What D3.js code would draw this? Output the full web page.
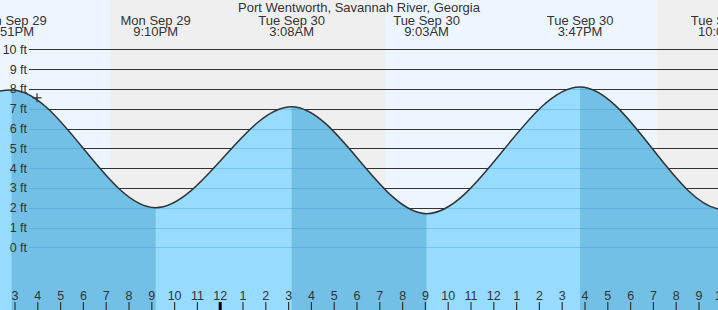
<!DOCTYPE html>
<html>
  <head>
    <meta charset="utf-8">
    <title>Port Wentworth tides</title>
    <script src="https://cdn.jsdelivr.net/npm/d3@7"></script>
    <style>
      body { margin: 0; background: #fff; }
      svg { display: block; font-family: "Liberation Sans", Arial, sans-serif; }
      text { fill: #333; }
    </style>
  </head>

  <body>
    <svg id="chart" width="718" height="310"></svg>

    <script>
      // tide extremes (first and last fall outside the window)
      var tideTimes = ["2025-09-29T08:38", "2025-09-29T14:51", "2025-09-29T21:10", "2025-09-30T03:08",
        "2025-09-30T09:03", "2025-09-30T15:47", "2025-09-30T22:06", "2025-10-01T04:30"];
      var tideHeights = [2.1, 7.95, 2.0, 7.1, 1.7, 8.1, 1.9, 7.6];

      // night bands
      var sunsets = ["2025-09-29T19:10", "2025-09-30T19:09"];
      var sunrises = ["2025-09-30T07:15", "2025-10-01T07:16"];

      // feet gridlines
      var feet = [0, 1, 2, 3, 4, 5, 6, 7, 8, 9, 10];

      // current-time marker
      var nowTime = "2025-09-29T15:58";
      var nowHeight = 7.55;

      var title = "Port Wentworth, Savannah River, Georgia";

      var parse = d3.timeParse("%Y-%m-%dT%H:%M");
      var tides = tideTimes.map(function(t, i) {
        return { time: parse(t), height: tideHeights[i] };
      });

      var svg = d3.select("#chart");
      var width = 718, height = 310;

      var x = d3.scaleTime()
        .domain([parse("2025-09-29T15:00"), parse("2025-09-30T22:00")])
        .range([15, 15 + 31 * 22.8]);
      var y = d3.scaleLinear()
        .domain([0, 10])
        .range([247.3, 49.3]);

      // backgrounds
      svg.append("rect")
        .attr("width", width)
        .attr("height", height)
        .attr("fill", "#edf6ff");
      svg.selectAll(".night")
        .data(sunsets)
      .enter().append("rect")
        .attr("x", function(d) { return x(parse(d)); })
        .attr("width", function(d, i) { return x(parse(sunrises[i])) - x(parse(d)); })
        .attr("y", 0)
        .attr("height", height)
        .attr("fill", "#efefef");

      // gridlines
      svg.selectAll(".grid")
        .data(feet)
      .enter().append("line")
        .attr("x1", 29)
        .attr("x2", width)
        .attr("y1", function(d) { return Math.round(y(d)) + 0.5; })
        .attr("y2", function(d) { return Math.round(y(d)) + 0.5; })
        .attr("stroke", "#333")
        .attr("stroke-width", 1.2);

      // tide area
      var area = d3.area()
        .x(function(d) { return x(d.time); })
        .y0(height)
        .y1(function(d) { return y(d.height); })
        .curve(d3.curveMonotoneX);
      var line = area.lineY1();

      svg.append("clipPath")
        .attr("id", "tideClip")
      .append("path")
        .datum(tides)
        .attr("d", area);

      svg.append("path")
        .datum(tides)
        .attr("d", area)
        .attr("fill", "#97dcff");

      // falling tide, high to low, darker
      var falls = tides.filter(function(d, i) {
        return i < tides.length - 1 && tides[i + 1].height < d.height;
      });
      var clipped = svg.append("g")
        .attr("clip-path", "url(#tideClip)");
      clipped.selectAll(".fall")
        .data(falls)
      .enter().append("rect")
        .attr("x", function(d) { return x(d.time); })
        .attr("width", function(d) {
          var next = tides[tides.indexOf(d) + 1];
          return x(next.time) - x(d.time);
        })
        .attr("y", 0)
        .attr("height", height)
        .attr("fill", "#72c0e6");
      clipped.selectAll(".subgrid")
        .data(feet)
      .enter().append("line")
        .attr("x1", 29)
        .attr("x2", width)
        .attr("y1", function(d) { return Math.round(y(d)) + 0.5; })
        .attr("y2", function(d) { return Math.round(y(d)) + 0.5; })
        .attr("stroke", "rgba(20,110,170,0.22)")
        .attr("stroke-width", 1.2);

      // y labels
      svg.selectAll(".ylab")
        .data(feet)
      .enter().append("text")
        .attr("x", 27)
        .attr("y", function(d) { return y(d); })
        .attr("dy", "0.36em")
        .attr("text-anchor", "end")
        .style("font-size", "12.5px")
        .text(function(d) { return d + " ft"; });

      // curve
      svg.append("path")
        .datum(tides)
        .attr("d", line)
        .attr("fill", "none")
        .attr("stroke", "#333")
        .attr("stroke-width", 1.5);

      // hour ticks
      var hours = d3.timeHour.range(x.domain()[0], d3.timeHour.offset(x.domain()[1], 1));
      var ticks = svg.selectAll(".tick")
        .data(hours)
      .enter().append("g")
        .attr("transform", function(d) { return "translate(" + x(d) + ",0)"; });
      ticks.append("line")
        .attr("y1", 302)
        .attr("y2", height)
        .attr("stroke", function(d) { return d.getHours() == 0 ? "#000" : "#333"; })
        .attr("stroke-width", function(d) { return d.getHours() == 0 ? 3 : 1.2; });
      ticks.append("text")
        .attr("y", 300)
        .attr("text-anchor", "middle")
        .style("font-size", "12.5px")
        .text(d3.timeFormat("%-I"));

      // title and extreme labels
      var dayFmt = d3.timeFormat("%a %b %-d");
      var timeFmt = d3.timeFormat("%-I:%M%p");
      svg.append("text")
        .attr("x", 359)
        .attr("y", 12)
        .attr("text-anchor", "middle")
        .style("font-size", "13px")
        .text(title);
      var labels = svg.selectAll(".tideLab")
        .data(tides.slice(1, 7))
      .enter().append("text")
        .attr("text-anchor", "middle")
        .style("font-size", "13px");
      labels.append("tspan")
        .attr("x", function(d) { return x(d.time); })
        .attr("y", 24.5)
        .text(function(d) { return dayFmt(d.time); });
      labels.append("tspan")
        .attr("x", function(d) { return x(d.time); })
        .attr("y", 36)
        .text(function(d) { return timeFmt(d.time); });

      // now marker
      var nx = x(parse(nowTime)), ny = y(nowHeight);
      svg.append("path")
        .attr("d", "M" + (nx - 4.5) + "," + ny + "H" + (nx + 4.5) + "M" + nx + "," + (ny - 4.5) + "V" + (ny + 4.5))
        .attr("stroke", "#333")
        .attr("stroke-width", 1.2);
    </script>
  </body>
</html>
